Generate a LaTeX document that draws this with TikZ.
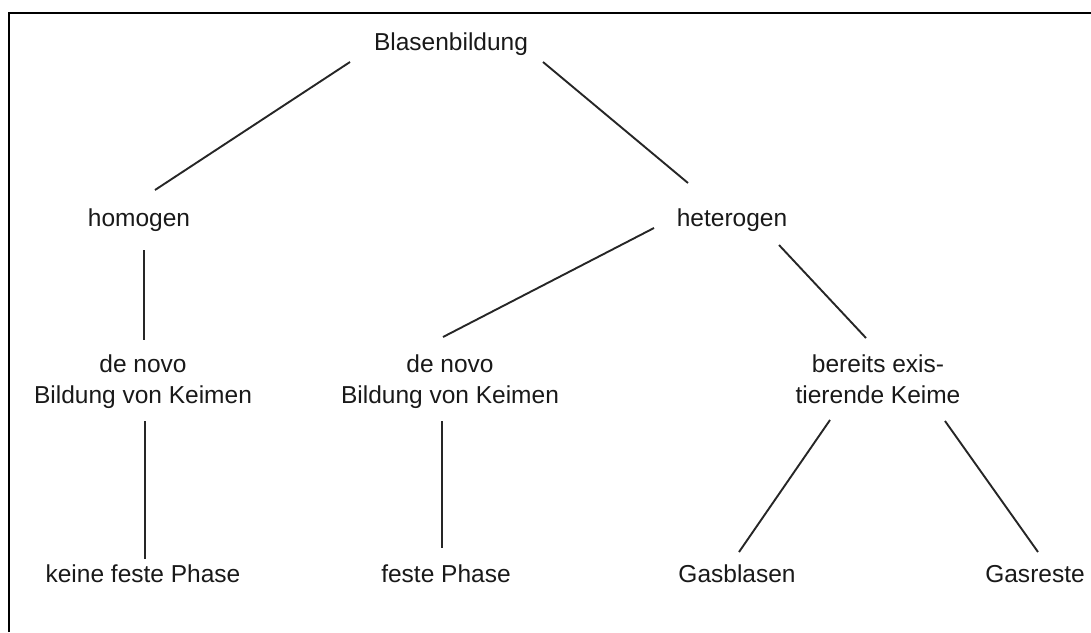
\documentclass[tikz,border=0pt]{standalone}
\usepackage{fontspec}
\setmainfont{Liberation Sans}
\usepackage{tikz}

\begin{document}
\begin{tikzpicture}[x=1pt, y=-1pt,
	lbl/.style={anchor=base, inner sep=0pt, align=center, text=black!90, font=\fontsize{24.5}{31}\selectfont},
	edge/.style={draw=black!85, line width=1.9pt}]
	\useasboundingbox (0,0) rectangle (1091,632);
	\draw[line width=2.8pt] (9,632) -- (9,13) -- (1091,13);
	% tree nodes
	\node[lbl] (blasen) at (451,50) {Blasenbildung};
	\node[lbl] (homogen) at (139,226) {homogen};
	\node[lbl] (hetero) at (732,226) {heterogen};
	\node[lbl] (novoL) at (143,403) {de novo\\Bildung von Keimen};
	\node[lbl] (novoM) at (450,403) {de novo\\Bildung von Keimen};
	\node[lbl] (keime) at (878,403) {bereits exis-\\tierende Keime};
	\node[lbl] (keine) at (143,582) {keine feste Phase};
	\node[lbl] (feste) at (446,582) {feste Phase};
	\node[lbl] (blasen2) at (737,582) {Gasblasen};
	\node[lbl] (reste) at (1035,582) {Gasreste};
	% connectors
	\draw[edge] ([shift={(-101,12)}]blasen.base) -- ([shift={(16,-36)}]homogen.base);
	\draw[edge] ([shift={(92,12)}]blasen.base) -- ([shift={(-44,-43)}]hetero.base);
	\draw[edge] ([shift={(5,24)}]homogen.base) -- ([shift={(1,-63)}]novoL.base);
	\draw[edge] ([shift={(-78,2)}]hetero.base) -- ([shift={(-7,-66)}]novoM.base);
	\draw[edge] ([shift={(47,19)}]hetero.base) -- ([shift={(-12,-65)}]keime.base);
	\draw[edge] ([shift={(2,18)}]novoL.base) -- ([shift={(2,-23)}]keine.base);
	\draw[edge] ([shift={(-8,18)}]novoM.base) -- ([shift={(-4,-34)}]feste.base);
	\draw[edge] ([shift={(-48,17)}]keime.base) -- ([shift={(2,-30)}]blasen2.base);
	\draw[edge] ([shift={(67,18)}]keime.base) -- ([shift={(3,-30)}]reste.base);
\end{tikzpicture}
\end{document}
